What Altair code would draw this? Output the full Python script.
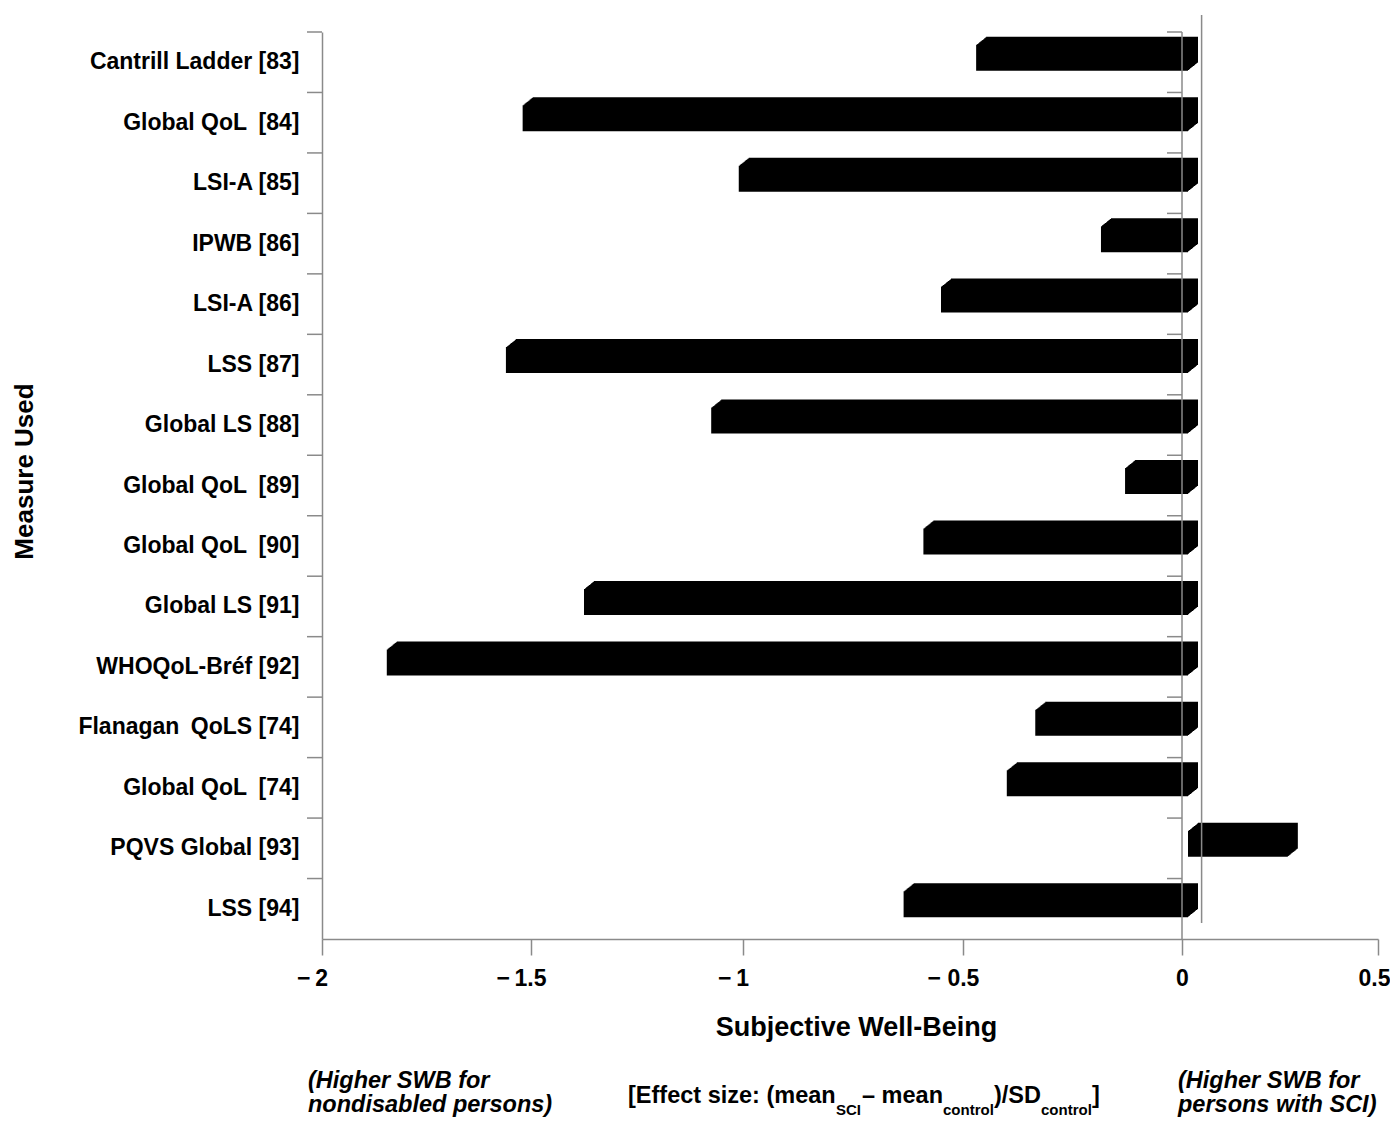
import altair as alt
import pandas as pd

FONT = "Liberation Sans"
GRAY = "#8a8a8a"

measures = [
    "Cantrill Ladder [83]", "Global QoL\u2002[84]", "LSI-A [85]", "IPWB [86]",
    "LSI-A [86]", "LSS [87]", "Global LS [88]", "Global QoL\u2002[89]",
    "Global QoL\u2002[90]", "Global LS [91]", "WHOQoL-Bréf [92]",
    "Flanagan\u2002QoLS [74]", "Global QoL\u2002[74]", "PQVS Global [93]", "LSS [94]",
]
effects = [-0.47, -1.52, -1.01, -0.185, -0.55, -1.56, -1.075, -0.13, -0.59,
           -1.375, -1.845, -0.335, -0.40, 0.27, -0.635]
x_ticks = [-2, -1.5, -1, -0.5, 0, 0.5]
x_tick_px = [0, 209, 421, 641, 860, 1056]   # axis calibration of the scanned figure
ref_line = 0.05

df = pd.DataFrame({"measure": measures, "effect": effects, "zero": [0.0] * len(measures)})

W, H = 1056, 907

xscale = alt.Scale(domain=x_ticks, range=x_tick_px, nice=False, zero=False)
yscale = alt.Scale(domain=measures, paddingInner=0, paddingOuter=0)

x_axis = alt.Axis(
    title="Subjective Well-Being", values=x_ticks, grid=False,
    labelExpr="datum.value == 0 ? '0' : datum.value == 0.5 ? '0.5' : datum.value == -0.5 ? '\u2212 0.5' : '\u2212\u2009' + format(-datum.value, '')",
    labelFont=FONT, labelFontSize=23, labelFontWeight="bold", labelColor="black",
    labelBaseline="alphabetic", labelPadding=30, labelFlush=False, labelOverlap=False,
    labelBound=False,
    labelOffset={"condition": [{"test": "datum.value < 0", "value": -10},
                               {"test": "datum.value > 0.4", "value": -4}],
                 "value": 0},
    tickSize=16, tickColor=GRAY, tickWidth=1.5, domainColor=GRAY, domainWidth=1.5,
    titleFont=FONT, titleFontSize=27, titleFontWeight="bold", titleColor="black",
    titleX=534, titleY=96, titleBaseline="alphabetic", titleAlign="center",
)
y_axis = alt.Axis(
    title="Measure Used", ticks=False, labelPadding=23, labelLimit=500,
    labelFont=FONT, labelFontSize=23, labelFontWeight="bold", labelColor="black",
    domainColor=GRAY, domainWidth=1.5,
    titleFont=FONT, titleFontSize=26, titleFontWeight="bold", titleColor="black",
    titleX=-298, titleY=439, titleBaseline="middle", titleAlign="center",
)

base = alt.Chart(df)

# extruded (3-D look) bars: front face plus stepped layers towards the back face
bar_layers = []
steps = 10
for i in range(steps + 1):
    t = i / steps
    bar_layers.append(
        base.mark_bar(color="black", size=26, xOffset=10 * t, x2Offset=6 + 10 * t,
                      yOffset=-4.5 - 8 * t)
        .encode(
            x=alt.X("effect:Q", scale=xscale, axis=x_axis),
            x2="zero:Q",
            y=alt.Y("measure:N", sort=measures, scale=yscale, axis=y_axis),
        )
    )

zero_line = alt.Chart(alt.Data(values=[{}])).mark_rule(color=GRAY, strokeWidth=1.5).encode(
    x=alt.X(datum=0, type="quantitative", scale=xscale, axis=x_axis),
    y=alt.value(0), y2=alt.value(H),
)
ref_rule = alt.Chart(alt.Data(values=[{}])).mark_rule(color=GRAY, strokeWidth=1.5).encode(
    x=alt.X(datum=ref_line, type="quantitative", scale=xscale, axis=x_axis),
    y=alt.value(-17), y2=alt.value(891),
)
left_ticks = base.mark_rule(color=GRAY, strokeWidth=1.5).encode(
    y=alt.Y("measure:N", sort=measures, scale=yscale, axis=y_axis, bandPosition=0),
    x=alt.value(-15), x2=alt.value(0),
)
zero_ticks = base.mark_rule(color=GRAY, strokeWidth=1.5, xOffset=-15).encode(
    y=alt.Y("measure:N", sort=measures, scale=yscale, axis=y_axis, bandPosition=0),
    x=alt.X("zero:Q", scale=xscale, axis=x_axis), x2="zero:Q",
)


def note(txt, x, y, size=22, style="normal", align="left"):
    return alt.Chart(alt.Data(values=[{}])).mark_text(
        text=txt, font=FONT, fontSize=size, fontWeight="bold", fontStyle=style,
        align=align, baseline="alphabetic", color="black",
    ).encode(x=alt.value(x), y=alt.value(y))


notes = [
    note("(Higher SWB for", -14, 1056, 23.5, "italic"),
    note("nondisabled persons)", -14, 1080, 23.5, "italic"),
    note("(Higher SWB for", 856, 1056, 23.5, "italic"),
    note("persons with SCI)", 856, 1080, 23.5, "italic"),
    note("[Effect size: (mean", 306, 1071, 23.5),
    note("SCI", 514, 1083, 15),
    note("\u2013 mean", 540, 1071, 23.5),
    note("control", 621, 1083, 15),
    note(")/SD", 672, 1071, 23.5),
    note("control", 719, 1083, 15),
    note("]", 770, 1071, 23.5),
]

chart = alt.layer(
    *bar_layers, zero_line, ref_rule, left_ticks, zero_ticks, *notes
).properties(
    width=W, height=H,
    autosize=alt.AutoSizeParams(type="none"),
    padding={"left": 314, "top": 24, "right": 12, "bottom": 180},
).configure(background="white").configure_view(stroke=None)

chart.save("out.html", embed_options={"renderer": "svg", "actions": False})
